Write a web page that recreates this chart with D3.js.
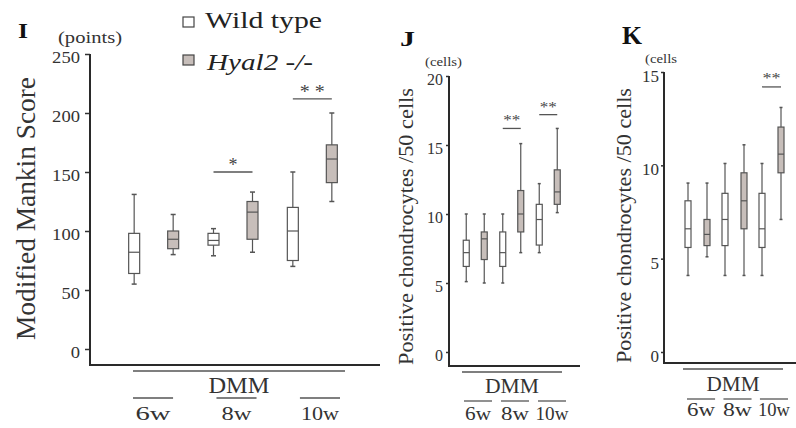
<!DOCTYPE html>
<html>
<head>
<meta charset="utf-8">
<script src="https://cdn.jsdelivr.net/npm/d3@7"></script>
<style>
  body { margin: 0; background: #fff; }
  svg { display: block; }
</style>
</head>
<body>
<svg id="chart" width="796" height="428"></svg>
<script>
// gruppi (settimane dopo DMM) e genotipi
const groups = ["6w", "8w", "10w"];
const genotypes = ["Wild type", "Hyal2 -/-"];

// box plot: [min, q1, mediana, q3, max] in ordine 6w, 8w, 10w
const mankinWT = [[55, 64, 82, 98, 131], [79, 88, 92, 98, 102], [70, 75, 100, 120, 150]];
const mankinKO = [[80, 85, 93, 100, 114], [82, 93, 116, 125, 133], [125, 141, 161, 173, 200]];

const cellsJWT = [[5.1, 6.2, 7.2, 8.1, 10], [5, 6.2, 7.2, 8.7, 10], [7.2, 7.75, 9.6, 10.7, 12.2]];
const cellsJKO = [[5, 6.7, 8.2, 8.7, 10], [7.2, 8.7, 10, 11.7, 15.1], [10.1, 10.7, 11.6, 13.2, 16.2]];

const cellsKWT = [[4.1, 5.6, 6.6, 8.1, 9.05], [4.1, 5.7, 7.1, 8.5, 10.1], [4.1, 5.6, 6.6, 8.5, 10.1]];
const cellsKKO = [[5.1, 5.7, 6.3, 7.1, 9.05], [4.1, 6.6, 8.1, 9.6, 11.1], [7.1, 9.6, 10.6, 12.05, 13.1]];

// tick dell'asse y
const mankinTicks = [0, 50, 100, 150, 200, 250];
const cellsJTicks = [0, 5, 10, 15, 20];
const cellsKTicks = [0, 5, 10, 15];

// significatività: [gruppo, etichetta, livello in unità dati]
const mankinSig = [["8w", "*", 150], ["10w", "* *", 212]];
const cellsJSig = [["8w", "**", 16.2], ["10w", "**", 17.2]];
const cellsKSig = [["10w", "**", 14.2]];

const serif = "'Liberation Serif', 'Times New Roman', serif";
const svg = d3.select("#chart");

const fill = d3.scaleOrdinal().domain(genotypes).range(["#ffffff", "#c7beba"]);

function toRows(wt, ko) {
    return groups.flatMap((g, i) => [
        { group: g, geno: genotypes[0], s: wt[i] },
        { group: g, geno: genotypes[1], s: ko[i] }
    ]);
}

function txt(g, x, y, s, size, o = {}) {
    const t = g.append("text")
        .attr("x", x).attr("y", y)
        .attr("font-family", serif)
        .attr("font-size", size)
        .attr("fill", o.fill || "#222")
        .attr("text-anchor", o.anchor || "start")
        .text(s);
    if (o.w) t.attr("textLength", o.w).attr("lengthAdjust", "spacingAndGlyphs");
    if (o.bold) t.attr("font-weight", "bold");
    if (o.italic) t.attr("font-style", "italic");
    if (o.transform) t.attr("transform", o.transform);
    return t;
}

function drawPanel(c) {
    const g = svg.append("g");
    const y = d3.scaleLinear().domain([0, c.ticks[c.ticks.length - 1]]).range(c.yRange);
    const x0 = d3.scaleBand().domain(groups).range(c.band);
    const x1 = d3.scalePoint().domain(genotypes).range([-c.offset, c.offset]);
    const cx = (grp, geno) => x0(grp) + x0.bandwidth() / 2 + x1(geno);

    // asse y
    const ax = g.append("g")
        .attr("transform", `translate(${c.axisX},0)`)
        .call(d3.axisLeft(y).tickValues(c.ticks).tickSize(c.tickSize).tickPadding(c.tickPad).tickFormat(d3.format("d")));
    ax.select(".domain").remove();
    ax.selectAll("line").attr("stroke", "#333").attr("stroke-width", 1.5);
    ax.selectAll("text")
        .attr("font-family", serif)
        .attr("font-size", c.tickFont)
        .attr("fill", "#333")
        .attr("dy", "0.55em")
        .attr("textLength", d => String(d).length * c.tickCharW)
        .attr("lengthAdjust", "spacingAndGlyphs");

    g.append("line")
        .attr("x1", c.axisX).attr("x2", c.axisX)
        .attr("y1", y.range()[1]).attr("y2", c.axisBottom)
        .attr("stroke", "#2a2a2a").attr("stroke-width", 2);
    g.append("line")
        .attr("x1", c.axisX - 1).attr("x2", c.axisRight)
        .attr("y1", c.axisBottom).attr("y2", c.axisBottom)
        .attr("stroke", "#2a2a2a").attr("stroke-width", 2);

    // box plot
    const boxes = g.selectAll(".box")
        .data(toRows(c.wt, c.ko))
        .enter().append("g")
        .attr("class", "box")
        .attr("transform", d => `translate(${cx(d.group, d.geno)},0)`);

    boxes.append("line")
        .attr("y1", d => y(d.s[0])).attr("y2", d => y(d.s[4]))
        .attr("stroke", "#555").attr("stroke-width", 1.2);
    boxes.append("line")
        .attr("x1", -c.capW / 2).attr("x2", c.capW / 2)
        .attr("y1", d => y(d.s[0])).attr("y2", d => y(d.s[0]))
        .attr("stroke", "#555").attr("stroke-width", 1.5);
    boxes.append("line")
        .attr("x1", -c.capW / 2).attr("x2", c.capW / 2)
        .attr("y1", d => y(d.s[4])).attr("y2", d => y(d.s[4]))
        .attr("stroke", "#555").attr("stroke-width", 1.5);
    boxes.append("rect")
        .attr("x", -c.boxW / 2).attr("width", c.boxW)
        .attr("y", d => y(d.s[3]))
        .attr("height", d => y(d.s[1]) - y(d.s[3]))
        .attr("fill", d => fill(d.geno))
        .attr("stroke", "#555").attr("stroke-width", 1.2);
    boxes.append("line")
        .attr("x1", -c.boxW / 2).attr("x2", c.boxW / 2)
        .attr("y1", d => y(d.s[2])).attr("y2", d => y(d.s[2]))
        .attr("stroke", "#555").attr("stroke-width", 1.2);

    // significatività
    c.sig.forEach(([grp, lab, lev]) => {
        const xa = cx(grp, genotypes[0]), xb = cx(grp, genotypes[1]);
        g.append("line")
            .attr("x1", xa).attr("x2", xb)
            .attr("y1", y(lev)).attr("y2", y(lev))
            .attr("stroke", "#555").attr("stroke-width", 1.3);
        txt(g, (xa + xb) / 2, y(lev) + c.starDy, lab, c.starFont, { anchor: "middle", fill: "#444", w: c.starW[lab] });
    });

    // etichette asse x
    g.append("line")
        .attr("x1", c.dmm[0]).attr("x2", c.dmm[1])
        .attr("y1", c.dmmY).attr("y2", c.dmmY)
        .attr("stroke", "#555").attr("stroke-width", 1.3);
    txt(g, (c.dmm[0] + c.dmm[1]) / 2, c.dmmTextY, "DMM", c.dmmFont, { anchor: "middle", w: c.dmmW, fill: "#333" });

    const xs = d3.scaleBand().domain(groups).range(c.subRange).paddingInner(c.subPad);
    groups.forEach((grp, i) => {
        g.append("line")
            .attr("x1", xs(grp)).attr("x2", xs(grp) + xs.bandwidth())
            .attr("y1", c.subY).attr("y2", c.subY)
            .attr("stroke", "#555").attr("stroke-width", 1.3);
        txt(g, xs(grp) + xs.bandwidth() / 2, c.subTextY, grp, c.subFont, { anchor: "middle", w: c.subW[i], fill: "#333" });
    });

    // lettera pannello, unità, titolo asse y
    txt(g, c.letter[1], c.letter[2], c.letter[0], c.letter[3], { bold: true, fill: "#111", w: c.letter[4] });
    txt(g, c.unit[1], c.unit[2], c.unit[0], c.unit[3], { fill: "#333", w: c.unit[4] });
    txt(g, 0, 0, c.title[0], c.title[3], {
        anchor: "middle", fill: "#333", w: c.title[4],
        transform: `translate(${c.title[1]},${c.title[2]}) rotate(-90)`
    });
    return g;
}

drawPanel({
    wt: mankinWT, ko: mankinKO, ticks: mankinTicks, sig: mankinSig,
    yRange: [349, 54], band: [114, 352], offset: 19.5, boxW: 11, capW: 5,
    axisX: 90, axisBottom: 365, axisRight: 380,
    tickSize: 5, tickPad: 5, tickFont: 16, tickCharW: 9.3,
    starDy: -1, starFont: 18, starW: { "*": 9, "* *": 25 },
    dmm: [133, 345], dmmY: 371, dmmTextY: 393, dmmFont: 24, dmmW: 61,
    subRange: [133, 340], subPad: 0.52, subY: 398, subTextY: 420, subFont: 18, subW: [35, 30, 38],
    letter: ["I", 18, 38, 22, 10],
    unit: ["(points)", 58, 43, 16, 64],
    title: ["Modified Mankin Score", 35, 208.5, 28, 263]
});

drawPanel({
    wt: cellsJWT, ko: cellsJKO, ticks: cellsJTicks, sig: cellsJSig,
    yRange: [352, 76], band: [457, 566.5], offset: 9, boxW: 6, capW: 3,
    axisX: 449, axisBottom: 366, axisRight: 580,
    tickSize: 3, tickPad: 3, tickFont: 16, tickCharW: 8,
    starDy: -3, starFont: 15, starW: { "**": 17 },
    dmm: [462, 562], dmmY: 372, dmmTextY: 393, dmmFont: 20, dmmW: 54,
    subRange: [464, 566], subPad: 0.243, subY: 401, subTextY: 420, subFont: 19, subW: [26, 28, 33],
    letter: ["J", 400, 46, 20, 15],
    unit: ["(cells)", 425, 66, 13, 37],
    title: ["Positive chondrocytes /50 cells", 413, 226.5, 21, 277]
});

drawPanel({
    wt: cellsKWT, ko: cellsKKO, ticks: cellsKTicks, sig: cellsKSig,
    yRange: [352, 72], band: [679, 790], offset: 9.5, boxW: 6, capW: 3,
    axisX: 664, axisBottom: 363, axisRight: 796,
    tickSize: 3, tickPad: 2, tickFont: 17, tickCharW: 8.5,
    starDy: -4, starFont: 15, starW: { "**": 18 },
    dmm: [683, 783], dmmY: 369, dmmTextY: 391, dmmFont: 20, dmmW: 53,
    subRange: [687, 788], subPad: 0.23, subY: 399, subTextY: 416, subFont: 19, subW: [28, 29, 32],
    letter: ["K", 622, 44, 25, 20],
    unit: ["(cells", 645, 63, 13, 32],
    title: ["Positive chondrocytes /50 cells", 631, 225.5, 21, 275]
});

// legenda
const legend = svg.append("g");
const legendY = [17, 55];
const legendText = [[205, 28, 117], [207, 70, 106]];
genotypes.forEach((gt, i) => {
    legend.append("rect")
        .attr("x", 183).attr("y", legendY[i])
        .attr("width", 11).attr("height", 10)
        .attr("fill", fill(gt))
        .attr("stroke", "#444").attr("stroke-width", 1.2);
    txt(legend, legendText[i][0], legendText[i][1], gt, 23, { italic: i === 1, w: legendText[i][2], fill: "#222" });
});
</script>
</body>
</html>
